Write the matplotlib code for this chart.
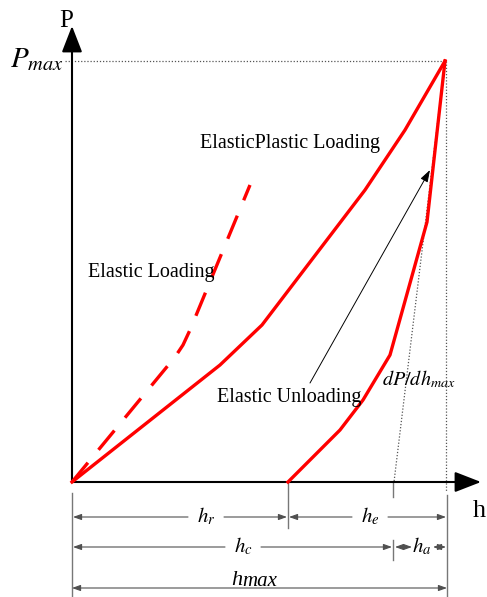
import matplotlib
matplotlib.use('Agg')
import matplotlib.pyplot as plt

plt.rcParams['font.family'] = ['Liberation Serif', 'DejaVu Serif']
plt.rcParams['mathtext.fontset'] = 'stix'

# schematic load-depth curve (h = depth, P = load), units ~ px
load_h = [0, 148, 190, 293, 333, 373]
load_P = [0, 117, 157, 292, 352, 421]

elastic_h = [0, 103, 111, 118, 178]
elastic_P = [0, 125, 137, 152, 297]

unload_h = [216, 268, 291, 318, 355, 373]
unload_P = [0, 52, 82, 127, 260, 421]

h_max = 373
P_max = 421
h_r = 216
h_c = 322

RED = '#ff0000'
DIM = '#505050'

fig = plt.figure(figsize=(4.87, 5.97), dpi=100)
ax = fig.add_axes([0, 0, 1, 1])
ax.set_xlim(-72, 415)
ax.set_ylim(-115, 482)
ax.axis('off')

# axes arrows
ax.annotate('', xy=(409, 0), xytext=(0, 0),
            arrowprops=dict(arrowstyle='-|>,head_length=0.9,head_width=0.35', color='black',
                            lw=1.5, shrinkA=0, shrinkB=0, mutation_scale=18))
ax.annotate('', xy=(0, 456), xytext=(0, 0),
            arrowprops=dict(arrowstyle='-|>,head_length=0.9,head_width=0.35', color='black',
                            lw=1.5, shrinkA=0, shrinkB=0, mutation_scale=18))
ax.text(-6, 461, 'P', fontsize=18, ha='center', va='center')
ax.text(401, -35, 'h', fontsize=19, ha='left', va='baseline')

# dotted guides
ax.plot([-7, h_max], [P_max, P_max], ls=(0, (1, 1.5)), color='#555555', lw=0.9)
ax.plot([h_max + 1, h_max + 1], [P_max, -10], ls=(0, (1, 1.5)), color='#555555', lw=0.9)
ax.plot([h_max, h_c], [P_max, 0], ls=(0, (1, 1.5)), color='#555555', lw=0.9)
ax.text(-62, 415, r'$P_{max}$', fontsize=21, ha='left', va='baseline')

# curves
ax.plot(load_h, load_P, color=RED, lw=2.4, solid_joinstyle='round', zorder=3)
ax.plot(elastic_h, elastic_P, color=RED, lw=2.4, ls=(0, (7.5, 5)), zorder=3)
ax.plot(unload_h, unload_P, color=RED, lw=2.4, solid_joinstyle='round', zorder=3)

ax.annotate('', xy=(358, 312), xytext=(238, 99),
            arrowprops=dict(arrowstyle='-|>,head_length=0.6,head_width=0.2', color='black',
                            lw=0.7, shrinkA=0, shrinkB=0, mutation_scale=12))

ax.text(128, 334, 'ElasticPlastic Loading', fontsize=14.5, ha='left', va='baseline')
ax.text(16, 205, 'Elastic Loading', fontsize=14.5, ha='left', va='baseline')
ax.text(145, 80, 'Elastic Unloading', fontsize=14.5, ha='left', va='baseline')
ax.text(310, 97, r'$dP/dh_{max}$', fontsize=14.5, ha='left', va='baseline')

# dimension lines
def dim(x_from, x_to, y, style='-|>'):
    ax.annotate('', xy=(x_to, y), xytext=(x_from, y),
                arrowprops=dict(arrowstyle=style + ',head_length=0.5,head_width=0.18', color=DIM,
                                lw=0.8, shrinkA=0, shrinkB=0, mutation_scale=10))

ext = dict(color='#777777', lw=1.0)
ax.plot([0, 0], [-11, -115], **ext)
ax.plot([h_r, h_r], [0, -46], **ext)
ax.plot([h_c - 1, h_c - 1], [0, -15], **ext)
ax.plot([h_c - 1, h_c - 1], [-58, -78], **ext)
ax.plot([h_max + 2, h_max + 2], [-13, -115], **ext)

gap = 18
rows = [(0, h_r, -35, r'$h_r$', 134),
        (h_r, h_max + 2, -35, r'$h_e$', 298),
        (0, h_c - 1, -65, r'$h_c$', 171)]
for x0, x1, y, lab, xc in rows:
    dim(xc - gap, x0 + 1, y)
    dim(xc + gap, x1 - 1, y)
    ax.text(xc, y - 5, lab, fontsize=15, ha='center', va='baseline')

dim(h_c + 1, h_c + 18, -65, '<|-|>')
dim(h_max - 12, h_max + 1, -65, '<|-|>')
ax.text(350, -70, r'$h_a$', fontsize=15, ha='center', va='baseline')

dim(0, h_max + 2, -106, '<|-|>')
ax.text(159, -103, 'h', fontsize=16, style='italic', ha='left', va='baseline')
ax.text(170, -104, 'max', fontsize=15, style='italic', ha='left', va='baseline')

fig.savefig('out.png', dpi=100)
